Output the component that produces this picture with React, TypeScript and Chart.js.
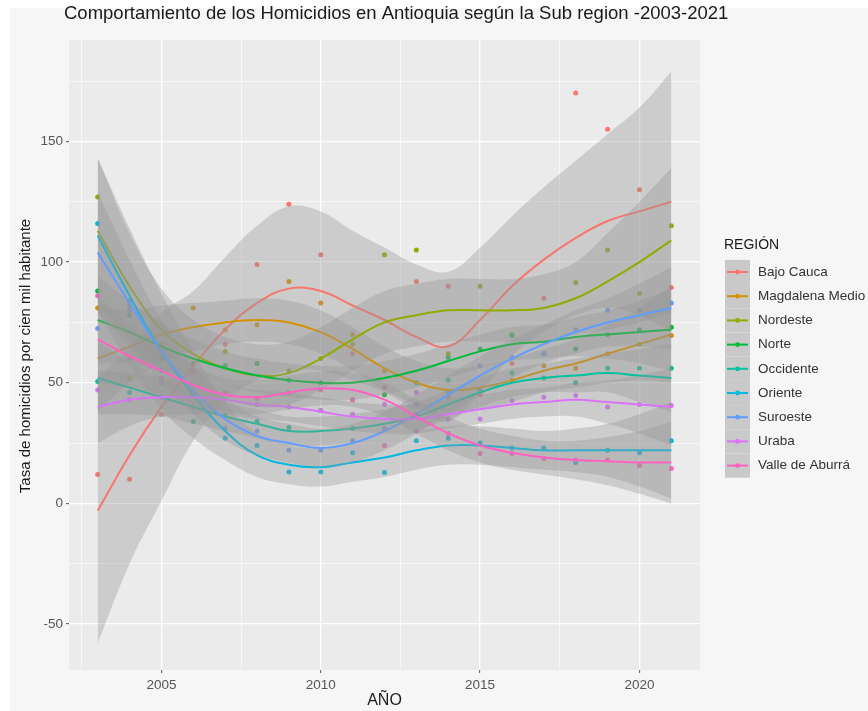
import React, { useEffect, useRef } from 'react';
import { Chart, registerables } from 'chart.js';

Chart.register(...registerables);

// ---------- data ----------
const YEARS = [2003, 2004, 2005, 2006, 2007, 2008, 2009, 2010, 2011, 2012, 2013, 2014, 2015, 2016, 2017, 2018, 2019, 2020, 2021];

const REGIONS = ['Bajo Cauca', 'Magdalena Medio', 'Nordeste', 'Norte', 'Occidente', 'Oriente', 'Suroeste', 'Uraba', 'Valle de Aburrá'];
const COLORS = ['#F8766D', '#D39200', '#93AA00', '#00BA38', '#00C19F', '#00B9E3', '#619CFF', '#DB72FB', '#FF61C3'];

// observed rates (points)
const BAJO_CAUCA_PTS = [12, 10, 37, 55, 66, 99, 124, 103, 62, 48, 92, 90, 45, 58, 85, 170, 155, 130, 89.5];
const MAGDALENA_PTS = [81, 52, 60, 81, 72, 74, 92, 83, 70, 55, 46, 44, 47, 51, 57, 56, 62, 66, 69.6];
const NORDESTE_PTS = [127, 82, 66, 54, 63, 58, 55, 60, 66, 103, 105, 62, 90, 70, 62, 91.5, 105, 87, 115];
const NORTE_PTS = [88, 78, 60, 58, 57, 58, 51, 50, 43, 45, 50, 60.5, 64, 69.6, 62, 64, 70, 72, 73];
const OCCIDENTE_PTS = [50.5, 46, 44, 34, 36.5, 34, 31.5, 38.5, 31, 31, 37, 51, 47, 54, 52, 50, 56, 56, 56];
const ORIENTE_PTS = [116, 84, 55, 45, 27, 24, 13, 13, 21, 12.8, 26, 27, 25, 23, 23, 17, 22, 21, 26];
const SUROESTE_PTS = [72.5, 80, 50, 40, 31, 30, 22, 22, 26, 31, 41, 46, 57, 60.5, 62, 72, 80, 80, 83];
const URABA_PTS = [47, 43, 44, 46, 46, 41, 40, 38.5, 37, 41, 46, 35, 35, 42.7, 44, 44.7, 40, 41, 40.6];
const VALLE_PTS = [86, 60, 52, 54, 46, 43.5, 46, 47, 43, 24, 30, 29, 20.7, 20.7, 18.6, 18, 18, 15.7, 14.5];

// smoothed trend (loess)
const BAJO_CAUCA_FIT = [-3, 20, 40, 57, 72, 83, 89, 88, 82, 76, 69, 65, 76, 90, 101, 110, 117, 121, 125];
const MAGDALENA_FIT = [60, 65, 70, 73, 75, 76, 75, 71, 64, 56, 50, 47, 48, 51, 55, 58, 62, 66, 70];
const NORDESTE_FIT = [113, 90, 72, 62, 56, 53, 54, 60, 68, 75, 78, 80, 80, 80, 81, 85, 92, 100, 109];
const NORTE_FIT = [76, 71, 65, 60, 56, 53, 51, 50, 50, 52, 55, 59, 63, 66, 67, 69, 70, 71, 72];
const OCCIDENTE_FIT = [52, 48, 44, 40, 36, 33, 30, 30, 31, 33, 36, 41, 46, 50, 52, 53, 54, 53, 52];
const ORIENTE_FIT = [111, 86, 63, 45, 30, 20, 16, 15, 17, 19, 22, 24, 24, 23, 22, 22, 22, 22, 22];
const SUROESTE_FIT = [104, 83, 63, 47, 35, 28, 25, 23, 25, 30, 37, 45, 53, 60, 66, 71, 75, 78, 81];
const URABA_FIT = [40, 43, 44, 44, 43, 41, 40, 38, 36, 35, 35, 37, 39, 41, 42, 43, 42, 41, 40];
const VALLE_FIT = [68, 61, 55, 49, 45, 44, 46, 47.6, 47, 43, 36, 29, 24, 21, 19, 18, 17.5, 17, 17];

// confidence band half-widths
const BAJO_CAUCA_SE = [55, 45, 39, 31, 30, 32, 34, 33, 31, 30, 30, 31, 30, 29, 30, 32, 36, 43, 54];
const MAGDALENA_SE = [22, 15, 12, 10, 9, 9, 9, 9, 9, 9, 9, 9, 9, 9, 9, 10, 12, 15, 20];
const NORDESTE_SE = [30, 22, 17, 14, 13, 13, 13, 13, 13, 13, 13, 13, 13, 13, 14, 15, 20, 25, 30];
const NORTE_SE = [18, 13, 10, 8, 7, 7, 7, 7, 7, 7, 7, 7, 7, 7, 7, 8, 10, 13, 17];
const OCCIDENTE_SE = [15, 11, 8, 7, 6, 6, 6, 6, 6, 6, 6, 6, 6, 6, 6, 7, 8, 11, 14];
const ORIENTE_SE = [32, 28, 24, 18, 12, 9, 8, 8, 8, 8, 8, 8, 8, 8, 8, 9, 11, 15, 20];
const SUROESTE_SE = [25, 18, 13, 10, 9, 8, 8, 8, 8, 8, 8, 8, 8, 8, 8, 9, 10, 13, 17];
const URABA_SE = [15, 11, 8, 7, 6, 6, 6, 6, 6, 6, 6, 6, 6, 6, 6, 7, 9, 12, 16];
const VALLE_SE = [18, 13, 10, 8, 7, 7, 7, 7, 7, 7, 7, 7, 7, 7, 7, 8, 10, 13, 17];

const X_TICKS = [2005, 2010, 2015, 2020];
const X_MINOR = [2002.5, 2007.5, 2012.5, 2017.5];
const Y_TICKS = [-50, 0, 50, 100, 150];
const Y_MINOR = [-25, 25, 75, 125, 175];

const TITLE = 'Comportamiento de los Homicidios en Antioquia según la Sub region -2003-2021';
const X_TITLE = 'AÑO';
const Y_TITLE = 'Tasa de homicidios por cien mil habitante';
const LEGEND_TITLE = 'REGIÓN';

const PTS = [BAJO_CAUCA_PTS, MAGDALENA_PTS, NORDESTE_PTS, NORTE_PTS, OCCIDENTE_PTS, ORIENTE_PTS, SUROESTE_PTS, URABA_PTS, VALLE_PTS];
const FITS = [BAJO_CAUCA_FIT, MAGDALENA_FIT, NORDESTE_FIT, NORTE_FIT, OCCIDENTE_FIT, ORIENTE_FIT, SUROESTE_FIT, URABA_FIT, VALLE_FIT];
const SES = [BAJO_CAUCA_SE, MAGDALENA_SE, NORDESTE_SE, NORTE_SE, OCCIDENTE_SE, ORIENTE_SE, SUROESTE_SE, URABA_SE, VALLE_SE];

// ---------- styles ----------
const FONT = "'Liberation Sans', Arial, sans-serif";
const RIBBON = 'rgba(150,150,150,0.36)';
const TRANSPARENT = 'rgba(0,0,0,0)';

const bgPlugin = {
  id: 'bgPlugin',
  beforeDraw(chart: any) {
    const ctx = chart.ctx;
    const a = chart.chartArea;
    ctx.save();
    ctx.fillStyle = '#ffffff';
    ctx.fillRect(0, 0, chart.width, chart.height);
    ctx.fillStyle = '#f6f6f6';
    ctx.fillRect(10, 8, chart.width - 10, chart.height - 8);
    ctx.fillStyle = '#ebebeb';
    ctx.fillRect(a.left, a.top, a.right - a.left, a.bottom - a.top);
    ctx.restore();
  },
};

const textPlugin = {
  id: 'textPlugin',
  afterDraw(chart: any) {
    const ctx = chart.ctx;
    const a = chart.chartArea;
    ctx.save();
    // title
    ctx.fillStyle = '#1a1a1a';
    ctx.font = `18.5px ${FONT}`;
    ctx.textAlign = 'left';
    ctx.textBaseline = 'middle';
    ctx.fillText(TITLE, 64, 14);
    // x title
    ctx.font = `16px ${FONT}`;
    ctx.textAlign = 'center';
    ctx.fillText(X_TITLE, (a.left + a.right) / 2, 701);
    // y title
    ctx.save();
    ctx.translate(26, 356);
    ctx.rotate(-Math.PI / 2);
    ctx.font = `15px ${FONT}`;
    ctx.fillText(Y_TITLE, 0, 0);
    ctx.restore();
    // legend
    ctx.textAlign = 'left';
    ctx.font = `14px ${FONT}`;
    ctx.fillStyle = '#1a1a1a';
    ctx.fillText(LEGEND_TITLE, 724, 245);
    const y0 = 272;
    const step = 24.2;
    const kx = 725;
    const kw = 25;
    REGIONS.forEach((name, i) => {
      const y = y0 + i * step;
      ctx.fillStyle = '#f2f2f2';
      ctx.fillRect(kx, y - step / 2, kw, step);
      ctx.fillStyle = 'rgba(150,150,150,0.45)';
      ctx.fillRect(kx, y - step / 2, kw, step);
      ctx.strokeStyle = COLORS[i];
      ctx.lineWidth = 2;
      ctx.beginPath();
      ctx.moveTo(kx + 2, y);
      ctx.lineTo(kx + kw - 2, y);
      ctx.stroke();
      ctx.fillStyle = COLORS[i];
      ctx.beginPath();
      ctx.arc(kx + kw / 2, y, 2.4, 0, Math.PI * 2);
      ctx.fill();
      ctx.fillStyle = '#333333';
      ctx.font = `13.5px ${FONT}`;
      ctx.fillText(name, 758, y);
    });
    ctx.restore();
  },
};

export default function App() {
  const ref = useRef<HTMLCanvasElement | null>(null);

  useEffect(() => {
    document.body.style.margin = '0';
    const canvas = ref.current;
    if (!canvas) return;

    const datasets: any[] = [];
    // points first (drawn under everything)
    REGIONS.forEach((name, k) => {
      datasets.push({
        type: 'line',
        label: name,
        data: YEARS.map((x, i) => ({ x, y: PTS[k][i] })),
        showLine: false,
        pointRadius: 2.5,
        pointBackgroundColor: COLORS[k],
        pointBorderWidth: 0,
        borderColor: TRANSPARENT,
        order: 2000 - k,
      });
    });
    // ribbons + smooth lines, in group order
    REGIONS.forEach((name, k) => {
      const base = 1000 - k * 3;
      datasets.push({
        type: 'line',
        label: name + ' sup',
        data: YEARS.map((x, i) => ({ x, y: FITS[k][i] + SES[k][i] })),
        fill: '+1',
        backgroundColor: RIBBON,
        borderColor: TRANSPARENT,
        borderWidth: 0,
        pointRadius: 0,
        tension: 0.4,
        order: base,
      });
      datasets.push({
        type: 'line',
        label: name + ' inf',
        data: YEARS.map((x, i) => ({ x, y: FITS[k][i] - SES[k][i] })),
        fill: false,
        borderColor: TRANSPARENT,
        borderWidth: 0,
        pointRadius: 0,
        tension: 0.4,
        order: base - 1,
      });
      datasets.push({
        type: 'line',
        label: name + ' fit',
        data: YEARS.map((x, i) => ({ x, y: FITS[k][i] })),
        fill: false,
        borderColor: COLORS[k],
        borderWidth: 2,
        pointRadius: 0,
        tension: 0.4,
        order: base - 2,
      });
    });

    const xGrid = [...X_TICKS, ...X_MINOR].sort((a, b) => a - b);
    const yGrid = [...Y_TICKS, ...Y_MINOR].sort((a, b) => a - b);

    const chart = new Chart(canvas, {
      type: 'line',
      data: { datasets },
      plugins: [bgPlugin, textPlugin],
      options: {
        responsive: false,
        animation: false,
        devicePixelRatio: 1,
        layout: { padding: { left: 0, right: 168, top: 40, bottom: 0 } },
        plugins: {
          legend: { display: false },
          tooltip: { enabled: false },
          title: { display: false },
        },
        scales: {
          x: {
            type: 'linear',
            min: 2002.1,
            max: 2021.9,
            afterBuildTicks: (sc: any) => {
              sc.ticks = xGrid.map((v) => ({ value: v }));
            },
            afterFit: (sc: any) => {
              sc.height = 41;
            },
            border: { display: false },
            grid: {
              color: '#ffffff',
              lineWidth: (c: any) => (X_TICKS.includes(c.tick?.value) ? 1.3 : 0.6),
              tickColor: (c: any) => (X_TICKS.includes(c.tick?.value) ? '#555555' : TRANSPARENT),
              tickLength: 3,
              tickWidth: 1,
              drawTicks: true,
            },
            ticks: {
              autoSkip: false,
              maxRotation: 0,
              minRotation: 0,
              padding: 4,
              color: '#555555',
              font: { family: FONT, size: 13.5 },
              callback: (v: any) => (X_TICKS.includes(Number(v)) ? String(v) : ''),
            },
          },
          y: {
            type: 'linear',
            min: -69,
            max: 192,
            afterBuildTicks: (sc: any) => {
              sc.ticks = yGrid.map((v) => ({ value: v }));
            },
            afterFit: (sc: any) => {
              sc.width = 69;
            },
            border: { display: false },
            grid: {
              color: '#ffffff',
              lineWidth: (c: any) => (Y_TICKS.includes(c.tick?.value) ? 1.3 : 0.6),
              tickColor: (c: any) => (Y_TICKS.includes(c.tick?.value) ? '#555555' : TRANSPARENT),
              tickLength: 3,
              tickWidth: 1,
              drawTicks: true,
            },
            ticks: {
              autoSkip: false,
              padding: 3,
              color: '#555555',
              font: { family: FONT, size: 13.5 },
              callback: (v: any) => (Y_TICKS.includes(Number(v)) ? String(v) : ''),
            },
          },
        },
      } as any,
    });

    return () => {
      chart.destroy();
    };
  }, []);

  return (
    <div style={{ width: 868, height: 711 }}>
      <canvas ref={ref} width={868} height={711} style={{ display: 'block' }} />
    </div>
  );
}
